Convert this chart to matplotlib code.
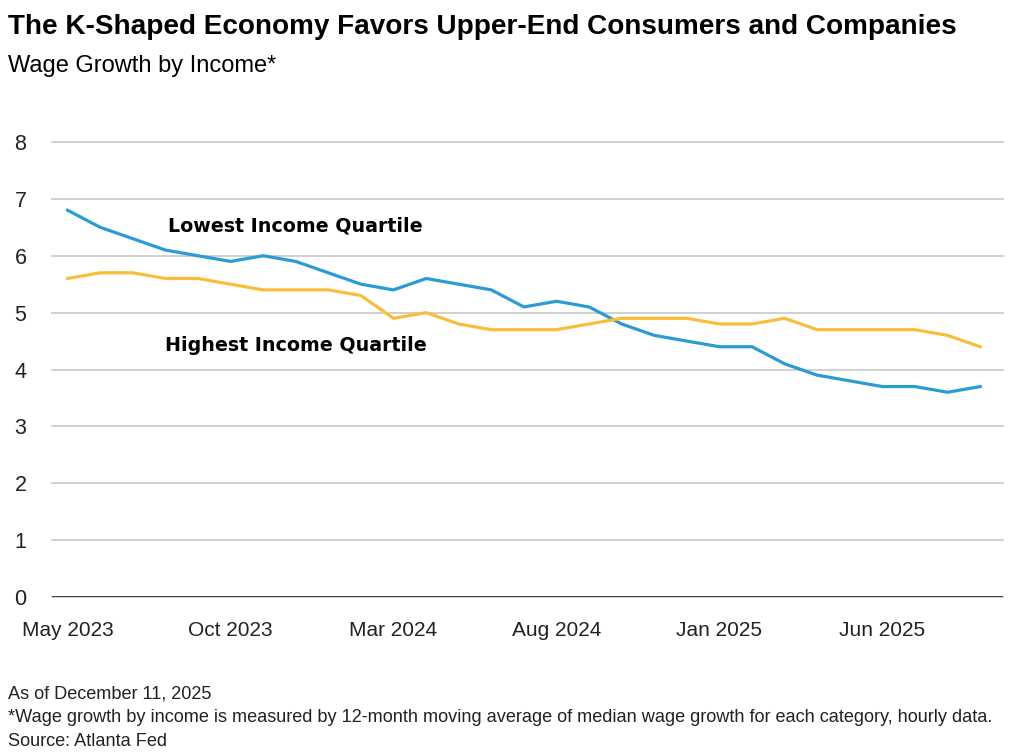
import matplotlib
matplotlib.use("Agg")
import matplotlib.pyplot as plt
import pandas as pd

# měsíce May 2023 .. Sep 2025
months = pd.date_range("2023-05-01", "2025-09-01", freq="MS")
tick_labels = ["May 2023", "Oct 2023", "Mar 2024", "Aug 2024", "Jan 2025", "Jun 2025"]

lowest_quartile = [6.8, 6.5, 6.3, 6.1, 6.0, 5.9, 6.0, 5.9, 5.7, 5.5,
                   5.4, 5.6, 5.5, 5.4, 5.1, 5.2, 5.1, 4.8, 4.6, 4.5,
                   4.4, 4.4, 4.1, 3.9, 3.8, 3.7, 3.7, 3.6, 3.7]
highest_quartile = [5.6, 5.7, 5.7, 5.6, 5.6, 5.5, 5.4, 5.4, 5.4, 5.3,
                    4.9, 5.0, 4.8, 4.7, 4.7, 4.7, 4.8, 4.9, 4.9, 4.9,
                    4.8, 4.8, 4.9, 4.7, 4.7, 4.7, 4.7, 4.6, 4.4]

BLUE = "#2b9bd3"
GOLD = "#f7be3b"
SANS = ["Liberation Sans", "DejaVu Sans"]

fig = plt.figure(figsize=(10.24, 7.55), dpi=100)
ax = fig.add_axes([52 / 1024, 1 - 597 / 755, (1003 - 52) / 1024, (597 - 142) / 755])


def fit_width(txt, target_px):
    # přizpůsobí velikost písma cílové šířce v pixelech
    r = fig.canvas.get_renderer()
    w = txt.get_window_extent(renderer=r).width
    txt.set_fontsize(txt.get_fontsize() * target_px / w)


x = list(range(len(months)))
ax.plot(x, lowest_quartile, color=BLUE, lw=2.3, solid_joinstyle="round")
ax.plot(x, highest_quartile, color=GOLD, lw=2.3, solid_joinstyle="round")

ax.set_xlim(-0.48, 28.7)
ax.set_ylim(0, 8)
ax.set_yticks(range(0, 9))
ax.set_xticks(range(0, len(months), 5))
ax.set_xticklabels(tick_labels, family=SANS, fontsize=15)
for lbl in ax.get_yticklabels():
    lbl.set_family(SANS)
    lbl.set_fontsize(15.5)
    lbl.set_horizontalalignment("left")
ax.tick_params(axis="y", length=0, pad=27, colors="#222222")
ax.tick_params(axis="x", length=0, pad=17, colors="#222222")
ax.grid(axis="y", color="#c8c8c8", lw=1.2)
for gl in ax.get_ygridlines():
    gl.set_clip_on(False)
ax.set_axisbelow(True)
for s in ax.spines.values():
    s.set_visible(False)
ax.axhline(0, color="#333333", lw=1.3)

ax.text(7, 6.53, "Lowest Income Quartile", ha="center", va="center",
        fontsize=13.7, fontweight="bold", color="black")
ax.text(7, 4.43, "Highest Income Quartile", ha="center", va="center",
        fontsize=13.7, fontweight="bold", color="black")

title = fig.text(8 / 1024, 1 - 27 / 755,
                 "The K-Shaped Economy Favors Upper-End Consumers and Companies",
                 family=SANS, fontweight="bold", fontsize=20, va="center", ha="left")
fit_width(title, 944)
fig.text(8 / 1024, 1 - 66 / 755, "Wage Growth by Income*", family=SANS,
         fontsize=17, va="center", ha="left")

notes = ["As of December 11, 2025",
         "*Wage growth by income is measured by 12-month moving average of median wage growth for each category, hourly data.",
         "Source: Atlanta Fed"]
note_texts = []
for i, line in enumerate(notes):
    t = fig.text(8 / 1024, 1 - (694 + 23.5 * i) / 755, line, family=SANS,
                 fontsize=12.5, va="center", ha="left", color="#222222")
    note_texts.append(t)
fit_width(note_texts[1], 988)
for t in note_texts:
    t.set_fontsize(note_texts[1].get_fontsize())

fig.savefig("out.png", dpi=100)
